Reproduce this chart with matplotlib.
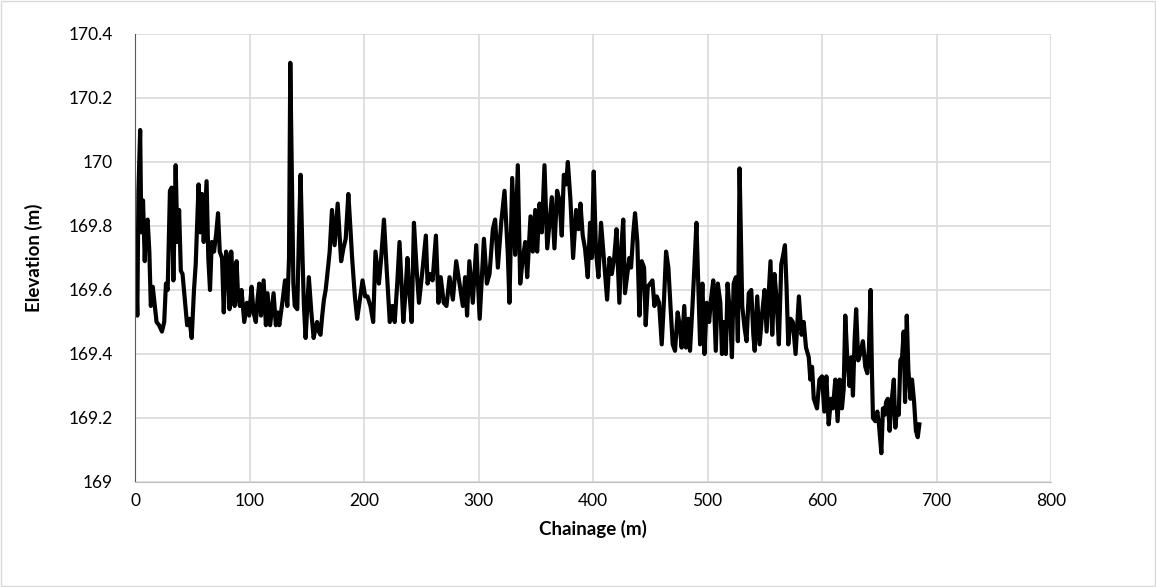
import numpy as np
import matplotlib
matplotlib.use('Agg')
import matplotlib.pyplot as plt
from matplotlib.ticker import FuncFormatter, MultipleLocator

# profile (chainage in m, elevation in m)
chainage = [
    0, 0.8, 2, 3, 4.5, 5.5, 7, 8.5, 9.5, 11, 12.5, 13.8, 15.5, 17, 18.8, 21, 23.5, 25.5, 27, 28.5,
    30.5, 32, 33.5, 35.5, 37, 38.5, 40, 41.5, 43.5, 45.5, 47.5, 49.5, 51.5, 53, 55.5, 57, 58.5, 60,
    62.5, 64, 65.5, 67, 69, 71, 72.5, 74, 76, 77.5, 79.5, 81, 82.5, 84, 85.5, 87, 88.7, 90, 91.6, 93,
    95.4, 97.7, 99.7, 101.8, 103.5, 105.5, 107, 108.5, 110, 112.3, 114.3, 115.7, 118, 121, 123, 124.5,
    126, 129, 131, 133, 134.5, 135.6, 137, 138.3, 139.5, 141.7, 143, 144.6, 146.3, 147.5, 149, 151.8,
    154, 156, 157.5, 159, 160.5, 162, 163.5, 165, 166.5, 168, 170, 172, 174.3, 177, 180, 182, 184,
    186.3, 188, 189.6, 192, 194, 196, 198.7, 201, 203, 205.6, 208, 210, 213, 215, 217.4, 219.7, 222.5,
    224.7, 226.8, 229, 231, 234.3, 236, 237.9, 239.5, 241.6, 243.6, 246, 248, 251, 254, 255.5, 257.5,
    259.9, 262.8, 265, 267, 269.6, 272, 274.7, 277.6, 280.5, 283.4, 286.3, 288.3, 290, 292, 295, 298,
    301, 304.7, 307.3, 309.6, 312.5, 314.5, 316.9, 319.8, 322.7, 325.6, 327, 329.4, 332, 334.3, 336.4,
    338.7, 340.8, 342.5, 345.4, 347.4, 349.5, 351.2, 353.3, 355.3, 357.6, 360, 362, 364, 366.3, 368.6,
    370.7, 372.7, 374.5, 376.5, 378, 380.3, 382.6, 385.2, 387.3, 389, 391, 393, 395.4, 397.4, 398.9,
    400.6, 402.6, 404.7, 407, 409.4, 412.3, 414.4, 416.4, 418.5, 420.5, 423, 425, 426.4, 427.9, 430,
    431.7, 433.2, 435.2, 436.7, 438.7, 440.5, 442.5, 444.6, 446, 447.8, 449.8, 451.9, 453.6, 455.7,
    457.7, 460, 462, 463.8, 465.8, 467.8, 469.6, 471.6, 473.9, 475.7, 477.4, 479.7, 481.2, 483.2,
    484.7, 486.7, 488.5, 490.3, 492, 493.5, 495.5, 497.3, 499.3, 501.4, 503, 505, 507.2, 509, 511.2,
    512.6, 514, 516, 517.5, 519.9, 521.3, 522.8, 524.8, 526.5, 528, 530.3, 532.4, 534.1, 536, 538.2,
    540, 541.2, 543.4, 545.5, 547.8, 549.8, 551.6, 553.6, 555, 556.5, 558.5, 560.3, 562.3, 564.4,
    566.1, 567.6, 569, 570.5, 572.5, 574.5, 576.9, 579.8, 582.1, 584, 586, 588.4, 589.8, 591.3, 592.8,
    595.6, 597.7, 600, 602, 603.8, 605.8, 607.8, 609.5, 611.6, 613.6, 615.4, 617.4, 618.9, 620.3, 622,
    624, 625.5, 627, 628.4, 629.8, 631.6, 633.3, 635.7, 637.8, 639.5, 641, 642.4, 643.6, 644.5, 646.5,
    648.3, 649.7, 651.8, 653.2, 654.7, 656, 657.5, 659, 661, 662.7, 664, 665.5, 667, 668.4, 669.9,
    671.3, 672.5, 674, 675.4, 677.2, 678.6, 680.4, 682, 683.6, 685,
]
elevation = [
    169.58, 169.68, 169.52, 169.91, 170.10, 169.78, 169.88, 169.69, 169.80, 169.82, 169.72, 169.55,
    169.61, 169.56, 169.50, 169.49, 169.47, 169.50, 169.62, 169.60,
    169.91, 169.92, 169.63, 169.99, 169.75, 169.85, 169.66, 169.65, 169.57, 169.49, 169.51, 169.45,
    169.60, 169.68, 169.93, 169.78, 169.90, 169.75,
    169.94, 169.70, 169.60, 169.75, 169.72, 169.78, 169.84, 169.72, 169.70, 169.53, 169.72, 169.70,
    169.54, 169.72, 169.62, 169.55, 169.69, 169.58, 169.55, 169.60,
    169.50, 169.56, 169.52, 169.61, 169.53, 169.50, 169.57, 169.62, 169.52, 169.63, 169.49, 169.59,
    169.49, 169.59, 169.49, 169.53,
    169.49, 169.57, 169.63, 169.55, 169.70, 170.31, 169.95, 169.62, 169.55, 169.54, 169.75, 169.96,
    169.70, 169.55, 169.45, 169.64,
    169.53, 169.45, 169.48, 169.50, 169.47, 169.46, 169.52, 169.57, 169.60, 169.65, 169.72, 169.85,
    169.74, 169.87, 169.69, 169.73, 169.76,
    169.90, 169.80, 169.70, 169.58, 169.51, 169.56, 169.63, 169.58, 169.58, 169.55, 169.50, 169.72,
    169.62, 169.70, 169.82, 169.67, 169.50,
    169.55, 169.50, 169.62, 169.75, 169.50, 169.58, 169.70, 169.60, 169.50, 169.81, 169.66, 169.56,
    169.66, 169.77, 169.62, 169.65,
    169.63, 169.77, 169.56, 169.64, 169.56, 169.55, 169.64, 169.57, 169.69, 169.62, 169.55, 169.64,
    169.52, 169.69, 169.56, 169.74,
    169.51, 169.76, 169.62, 169.65, 169.79, 169.82, 169.67, 169.81, 169.91, 169.71, 169.56, 169.95,
    169.71, 169.99, 169.62,
    169.70, 169.75, 169.64, 169.83, 169.72, 169.85, 169.72, 169.87, 169.78, 169.99, 169.73, 169.81,
    169.89, 169.73, 169.91,
    169.88, 169.77, 169.96, 169.93, 170.00, 169.88, 169.70, 169.85, 169.79, 169.87, 169.77, 169.73,
    169.64, 169.81, 169.70,
    169.97, 169.72, 169.64, 169.81, 169.70, 169.57, 169.70, 169.65, 169.70, 169.79, 169.56, 169.75,
    169.82, 169.59, 169.65,
    169.70, 169.67, 169.78, 169.84, 169.75, 169.52, 169.69, 169.67, 169.49, 169.61, 169.62, 169.63,
    169.55, 169.58,
    169.56, 169.43, 169.57, 169.72, 169.67, 169.54, 169.43, 169.41, 169.53, 169.49, 169.42, 169.55,
    169.42, 169.51,
    169.41, 169.54, 169.67, 169.81, 169.61, 169.43, 169.62, 169.40, 169.56, 169.50, 169.57, 169.63,
    169.41, 169.62, 169.56,
    169.40, 169.50, 169.40, 169.62, 169.51, 169.39, 169.62, 169.64, 169.44, 169.98, 169.55, 169.48,
    169.44, 169.59, 169.60,
    169.46, 169.41, 169.58, 169.43, 169.53, 169.60, 169.47, 169.60, 169.69, 169.46, 169.65, 169.57,
    169.43, 169.68,
    169.71, 169.74, 169.61, 169.43, 169.51, 169.50, 169.40, 169.58, 169.46, 169.50, 169.42, 169.39,
    169.32, 169.36, 169.26,
    169.23, 169.32, 169.33, 169.22, 169.33, 169.18, 169.26, 169.23, 169.32, 169.19, 169.32, 169.23,
    169.29, 169.52, 169.39,
    169.30, 169.39, 169.27, 169.44, 169.54, 169.38, 169.40, 169.44, 169.36, 169.34, 169.42, 169.60,
    169.34, 169.20, 169.19,
    169.22, 169.18, 169.09, 169.23, 169.21, 169.25, 169.26, 169.16, 169.26, 169.32, 169.17, 169.23,
    169.21, 169.38, 169.39,
    169.47, 169.25, 169.52, 169.35, 169.26, 169.32, 169.25, 169.16, 169.14, 169.18,
]

x_ticks = [0, 100, 200, 300, 400, 500, 600, 700, 800]
y_ticks = [169, 169.2, 169.4, 169.6, 169.8, 170, 170.2, 170.4]

plt.rcParams['font.family'] = ['Lato', 'DejaVu Sans']

fig = plt.figure(figsize=(11.56, 5.87), dpi=100)
ax = fig.add_axes([0.1168, 0.1789, 0.7924, 0.7632])

ax.plot(chainage, elevation, color='black', linewidth=3.0, solid_joinstyle='round')

ax.set_xlim(0, 800)
ax.set_ylim(169, 170.4)
ax.set_xticks(x_ticks)
ax.set_yticks(y_ticks)
ax.yaxis.set_major_formatter(FuncFormatter(lambda v, p: f'{v:g}'))
ax.grid(True, color='#d9d9d9', linewidth=1.2)
ax.set_axisbelow(True)
ax.tick_params(length=0, labelsize=12.5, colors='black')
ax.tick_params(axis='y', pad=16)
ax.tick_params(axis='x', pad=8)

for s in ['top', 'right']:
    ax.spines[s].set_visible(False)
ax.spines['left'].set_color('#595959')
ax.spines['bottom'].set_color('#bfbfbf')

ax.set_xlabel('Chainage (m)', fontsize=13.5, fontweight='bold', labelpad=8)
ax.set_ylabel('Elevation (m)', fontsize=13.5, fontweight='bold', labelpad=18)

# thin grey frame round the whole picture
fig.patches.append(plt.Rectangle((0.001, 0.001), 0.998, 0.997, transform=fig.transFigure,
                                 fill=False, edgecolor='#d9d9d9', linewidth=1))

fig.savefig('out.png', dpi=100)
